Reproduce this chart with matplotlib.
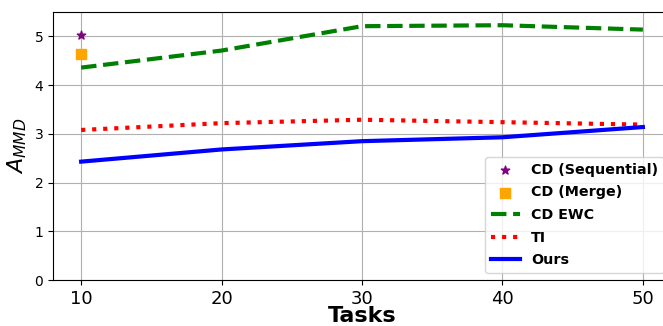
import matplotlib
matplotlib.use("Agg")
import matplotlib.pyplot as plt

tasks = [10, 20, 30, 40, 50]
ours = [2.43, 2.68, 2.85, 2.93, 3.14]
ti = [3.08, 3.22, 3.29, 3.24, 3.19]
cd_ewc = [4.36, 4.71, 5.21, 5.23, 5.14]
cd_seq_x, cd_seq_y = [10], [5.02]
cd_merge_x, cd_merge_y = [10], [4.63]

fig = plt.figure(figsize=(6.63, 3.26), dpi=100)
# axes run slightly past the right edge, as in the cropped reference
ax = fig.add_axes([0.08, 0.141, 0.932, 0.822])

ax.scatter(cd_seq_x, cd_seq_y, marker='*', color='purple', s=40, label='CD (Sequential)', zorder=3)
ax.scatter(cd_merge_x, cd_merge_y, marker='s', color='orange', s=50, label='CD (Merge)', zorder=3)
ax.plot(tasks, cd_ewc, color='green', linestyle='--', linewidth=3, label='CD EWC')
ax.plot(tasks, ti, color='red', linestyle=':', linewidth=3, label='TI')
ax.plot(tasks, ours, color='blue', linestyle='-', linewidth=3, label='Ours')

ax.set_xlim(8, 52)
ax.set_ylim(0, 5.5)
ax.set_xticks(tasks)
ax.tick_params(axis='x', labelsize=13)
ax.tick_params(axis='y', labelsize=10)
ax.grid(True, color='#b0b0b0', linewidth=0.8)
ax.set_xlabel('Tasks', fontsize=16, fontweight='bold', labelpad=-1)
ax.set_ylabel(r'$A_{MMD}$', fontsize=16)

ax.legend(loc='lower right', prop={'weight': 'bold', 'size': 10.3}, labelspacing=0.6)

fig.savefig('out.png', dpi=100)
